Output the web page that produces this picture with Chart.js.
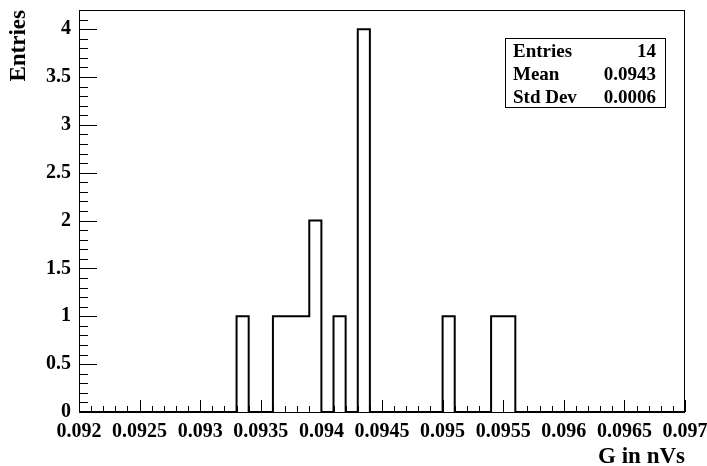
<!DOCTYPE html>
<html>
<head>
<meta charset="utf-8">
<script src="https://cdn.jsdelivr.net/npm/chart.js@4.4.1/dist/chart.umd.min.js"></script>
<style>
  html, body { margin: 0; padding: 0; background: #fff; }
  #wrap { width: 707px; height: 466px; }
</style>
</head>
<body>
<div id="wrap"><canvas id="hist"></canvas></div>
<script>
// histogram binning (50 bins between xMin and xMax)
const xMin = 0.092;
const xMax = 0.097;
const binWidth = 0.0001;

// entries per bin
const binCounts = [
  0, 0, 0, 0, 0, 0, 0, 0, 0, 0,   // 0.0920 - 0.0929
  0, 0, 0, 1, 0, 0, 1, 1, 1, 2,   // 0.0930 - 0.0939
  0, 1, 0, 4, 0, 0, 0, 0, 0, 0,   // 0.0940 - 0.0949
  1, 0, 0, 0, 1, 1, 0, 0, 0, 0,   // 0.0950 - 0.0959
  0, 0, 0, 0, 0, 0, 0, 0, 0, 0    // 0.0960 - 0.0969
];

const yMax = 4.2;
const xTickStep = 0.0005;
const yTickStep = 0.5;

const serif = "'Liberation Serif', 'Times New Roman', serif";

// step outline points: each bin's low edge, then closing edge
const points = binCounts.map((c, i) => ({ x: xMin + i * binWidth, y: c }));
points.push({ x: xMax, y: 0 });

// stats box values
let nEntries = 0, sum = 0, sum2 = 0;
binCounts.forEach((c, i) => {
  const centre = xMin + (i + 0.5) * binWidth;
  nEntries += c;
  sum += c * centre;
  sum2 += c * centre * centre;
});
const mean = sum / nEntries;
const stdDev = Math.sqrt(sum2 / nEntries - mean * mean);

// ==== frame, inward ticks and stats box ====
const rootStyle = {
  id: "rootStyle",
  afterDatasetsDraw(chart) {
    const { ctx, chartArea: a, scales } = chart;
    const xs = scales.x, ys = scales.y;
    ctx.save();
    ctx.strokeStyle = "#000";
    ctx.lineWidth = 1;
    ctx.strokeRect(a.left + 0.5, a.top + 0.5, a.right - a.left - 1, a.bottom - a.top);

    ctx.beginPath();
    // x ticks: every bin width, major every 5
    for (let i = 0; i <= 50; i++) {
      const px = Math.round(xs.getPixelForValue(xMin + i * binWidth)) + 0.5;
      const len = i % 5 === 0 ? 12 : 6;
      ctx.moveTo(px, a.bottom);
      ctx.lineTo(px, a.bottom - len);
    }
    // y ticks: every 0.1, major every 0.5
    for (let i = 0; i <= 42; i++) {
      const py = Math.round(ys.getPixelForValue(i * 0.1)) + 0.5;
      const len = i % 5 === 0 ? 18 : 9;
      ctx.moveTo(a.left, py);
      ctx.lineTo(a.left + len, py);
    }
    ctx.stroke();

    // stats box
    const bx = a.right - 180, by = a.top + 28, bw = 160, bh = 69;
    ctx.fillStyle = "#fff";
    ctx.fillRect(bx, by, bw, bh);
    ctx.strokeRect(bx + 0.5, by + 0.5, bw, bh);
    ctx.fillStyle = "#000";
    ctx.font = "bold 19px " + serif;
    ctx.textBaseline = "middle";
    const rows = [
      ["Entries", String(nEntries)],
      ["Mean", mean.toFixed(4)],
      ["Std Dev", stdDev.toFixed(4)]
    ];
    rows.forEach(([k, v], r) => {
      const ry = by + 14 + r * 23;
      ctx.textAlign = "left";
      ctx.fillText(k, bx + 8, ry);
      ctx.textAlign = "right";
      ctx.fillText(v, bx + bw - 9, ry);
    });
    ctx.restore();
  }
};

new Chart(document.getElementById("hist"), {
  type: "line",
  data: {
    datasets: [{
      data: points,
      stepped: true,
      borderColor: "#000",
      borderWidth: 2,
      pointRadius: 0,
      fill: false
    }]
  },
  options: {
    responsive: true,
    maintainAspectRatio: false,
    animation: false,
    layout: { padding: { top: 10, right: 22, left: 0, bottom: 0 } },
    plugins: { legend: { display: false }, tooltip: { enabled: false } },
    scales: {
      x: {
        type: "linear",
        min: xMin,
        max: xMax,
        grid: { display: false, drawTicks: false },
        border: { display: false },
        ticks: {
          stepSize: xTickStep,
          includeBounds: false,
          autoSkip: false,
          maxRotation: 0,
          padding: 8,
          color: "#000",
          font: { family: serif, size: 20, weight: "bold" },
          callback: (v) => String(+v.toFixed(4))
        },
        title: {
          display: true,
          text: "G in nVs",
          align: "end",
          color: "#000",
          padding: { top: 0, bottom: 0 },
          font: { family: serif, size: 23, weight: "bold", lineHeight: 0.8 }
        },
        afterFit: (s) => { s.height = 54; s.paddingLeft = 0; s.paddingRight = 0; }
      },
      y: {
        min: 0,
        max: yMax,
        grid: { display: false, drawTicks: false },
        border: { display: false },
        ticks: {
          stepSize: yTickStep,
          includeBounds: false,
          padding: 8,
          color: "#000",
          font: { family: serif, size: 20, weight: "bold" },
          callback: (v) => String(+v.toFixed(1))
        },
        title: {
          display: true,
          text: "Entries",
          align: "end",
          color: "#000",
          padding: { top: 8, bottom: 0 },
          font: { family: serif, size: 23, weight: "bold", lineHeight: 1 }
        },
        afterFit: (s) => { s.width = 79; s.paddingTop = 0; s.paddingBottom = 0; }
      }
    }
  },
  plugins: [rootStyle]
});
</script>
</body>
</html>
